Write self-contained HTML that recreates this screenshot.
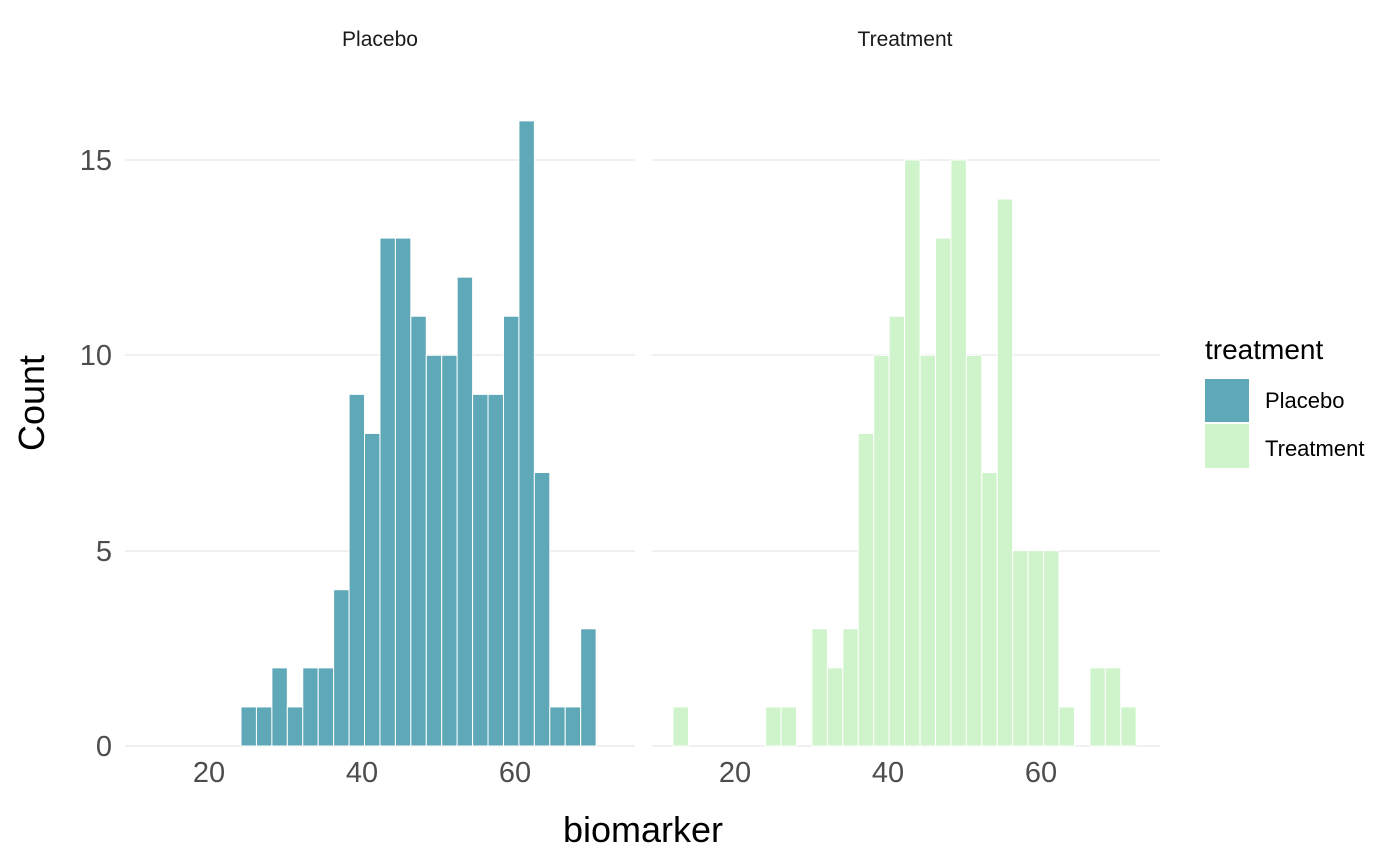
<!DOCTYPE html>
<html><head><meta charset="utf-8"><style>body{margin:0;background:#fff}svg{display:block}</style></head><body>
<svg width="1400" height="866" xmlns="http://www.w3.org/2000/svg" font-family="Liberation Sans, Arial, sans-serif">
<g stroke="#ebebeb" stroke-width="1.5">
<line x1="125" x2="635" y1="746" y2="746"/><line x1="125" x2="635" y1="551" y2="551"/><line x1="125" x2="635" y1="355" y2="355"/><line x1="125" x2="635" y1="160" y2="160"/>
<line x1="652" x2="1160" y1="746" y2="746"/><line x1="652" x2="1160" y1="551" y2="551"/><line x1="652" x2="1160" y1="355" y2="355"/><line x1="652" x2="1160" y1="160" y2="160"/>
</g>
<g id="bars"></g>
<g font-size="21" fill="#1a1a1a" text-anchor="middle"><text x="380" y="46">Placebo</text><text x="905" y="46">Treatment</text></g>
<g font-size="29" fill="#4d4d4d" text-anchor="end"><text x="112" y="756">0</text><text x="112" y="561">5</text><text x="112" y="365">10</text><text x="112" y="170">15</text></g>
<g font-size="29" fill="#4d4d4d" text-anchor="middle"><text x="209" y="782">20</text><text x="362" y="782">40</text><text x="515" y="782">60</text><text x="735" y="782">20</text><text x="888" y="782">40</text><text x="1041" y="782">60</text></g>
<text x="643" y="842" font-size="36" text-anchor="middle" fill="#000">biomarker</text>
<text transform="translate(44,403) rotate(-90)" font-size="36" text-anchor="middle" fill="#000">Count</text>
<text x="1205" y="359" font-size="28" fill="#000">treatment</text>
<rect x="1205" y="379" width="44" height="43" fill="#5fa8b7"/>
<rect x="1205" y="424" width="44" height="44" fill="#cff4cb"/>
<g font-size="22" fill="#000"><text x="1265" y="408">Placebo</text><text x="1265" y="456">Treatment</text></g>
<script>
var ns="http://www.w3.org/2000/svg",g=document.getElementById("bars");
function draw(x0,h,c){h.forEach(function(v,i){if(!v)return;var r=document.createElementNS(ns,"rect");var x=x0+15.44*i;r.setAttribute("x",x);r.setAttribute("width",15.44);r.setAttribute("y",746-v*39.07);r.setAttribute("height",v*39.07);r.setAttribute("fill",c);r.setAttribute("stroke","#fff");r.setAttribute("stroke-width","1");g.appendChild(r);});}
draw(241,[1,1,2,1,2,2,4,9,8,13,13,11,10,10,12,9,9,11,16,7,1,1,3],"#5fa8b7");
draw(673,[1,0,0,0,0,0,1,1,0,3,2,3,8,10,11,15,10,13,15,10,7,14,5,5,5,1,0,2,2,1],"#cff4cb");
</script>
</svg>
</body></html>
